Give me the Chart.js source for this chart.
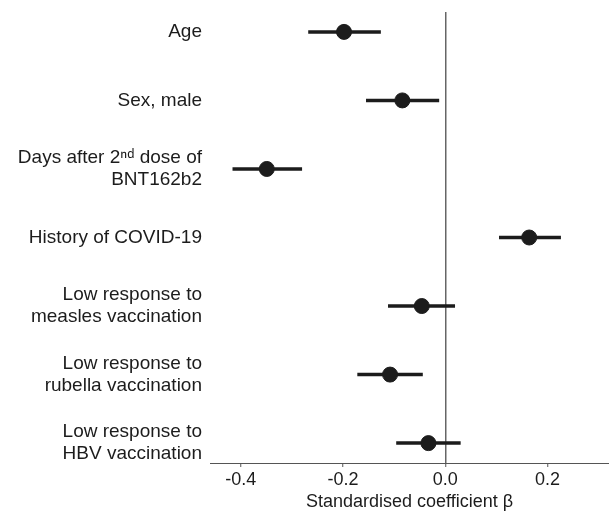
<!DOCTYPE html>
<html>
<head>
<meta charset="utf-8">
<script src="https://cdn.jsdelivr.net/npm/chart.js@4.4.1/dist/chart.umd.min.js"></script>
<style>
  html, body { margin: 0; padding: 0; background: #fff; }
  #wrap { width: 609px; height: 513px; }
</style>
</head>
<body>
<div id="wrap"><canvas id="chart" width="609" height="513"></canvas></div>
<script>
// row labels, top to bottom
const rowLabels = [
  ['Age'],
  ['Sex, male'],
  ['Days after 2\u207F\u1D48 dose of', 'BNT162b2'],
  ['History of COVID-19'],
  ['Low response to', 'measles vaccination'],
  ['Low response to', 'rubella vaccination'],
  ['Low response to', 'HBV vaccination']
]

// standardised coefficient and 95% CI
const beta = [-0.198, -0.084, -0.349, 0.164, -0.046, -0.108, -0.033]
const ciLow = [-0.268, -0.155, -0.416, 0.105, -0.112, -0.172, -0.096]
const ciHigh = [-0.126, -0.012, -0.280, 0.226, 0.019, -0.044, 0.030]

const xTicks = [-0.4, -0.2, 0.0, 0.2]

const ink = '#1c1c1c'
const family = '"Liberation Sans", Arial, sans-serif'

// error bars as one line dataset, broken by gaps
const barData = []
beta.forEach((b, i) => {
  barData.push({ x: ciLow[i], y: i })
  barData.push({ x: ciHigh[i], y: i })
  barData.push({ x: null, y: null })
})

new Chart(document.getElementById('chart'), {
  type: 'scatter',
  data: {
    datasets: [
      {
        label: 'beta',
        data: beta.map((b, i) => ({ x: b, y: i })),
        backgroundColor: ink,
        borderColor: ink,
        pointRadius: 7.5,
        pointHoverRadius: 7.5
      },
      {
        label: 'ci',
        data: barData,
        showLine: true,
        spanGaps: false,
        borderColor: ink,
        borderWidth: 3.5,
        pointRadius: 0,
        pointHoverRadius: 0
      }
    ]
  },
  options: {
    responsive: false,
    animation: false,
    events: [],
    layout: { autoPadding: false, padding: { top: 12, right: 0, bottom: 0, left: 0 } },
    plugins: { legend: { display: false }, tooltip: { enabled: false } },
    scales: {
      x: {
        type: 'linear',
        min: -0.46,
        max: 0.32,
        afterBuildTicks: (axis) => { axis.ticks = xTicks.map(v => ({ value: v })) },
        afterFit: (axis) => { axis.paddingLeft = 0; axis.paddingRight = 0; axis.height = 50 },
        border: { display: true, color: '#555', width: 1 },
        grid: {
          drawOnChartArea: true,
          color: (ctx) => (ctx.tick && ctx.tick.value === 0 ? '#666' : 'rgba(0,0,0,0)'),
          lineWidth: 1.5,
          drawTicks: true,
          tickColor: '#555',
          tickLength: 4,
          tickWidth: 1
        },
        ticks: {
          color: ink,
          font: { family: family, size: 18 },
          padding: 2,
          callback: (v) => Number(v).toFixed(1)
        },
        title: {
          display: true,
          text: 'Standardised coefficient \u03B2',
          color: ink,
          font: { family: family, size: 18 },
          padding: { top: 2, bottom: 0 }
        }
      },
      y: {
        type: 'linear',
        reverse: true,
        min: -0.29,
        max: 6.29,
        afterBuildTicks: (axis) => { axis.ticks = rowLabels.map((l, i) => ({ value: i })) },
        afterFit: (axis) => { axis.width = 210; axis.paddingTop = 0; axis.paddingBottom = 0 },
        border: { display: false },
        grid: { display: false, drawTicks: false },
        ticks: {
          color: ink,
          font: { family: family, size: 19, lineHeight: 1.17 },
          padding: 8,
          callback: (v) => rowLabels[v]
        }
      }
    }
  }
})
</script>
</body>
</html>
